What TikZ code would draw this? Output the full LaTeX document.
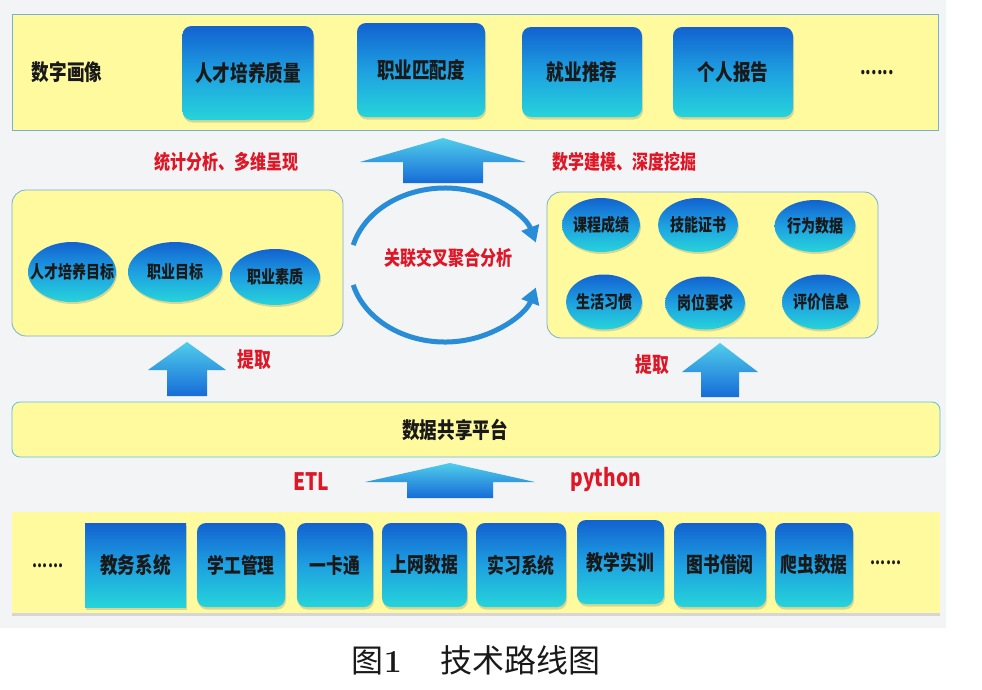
\documentclass[tikz,border=0pt]{standalone}
\usepackage{fontspec}
\newfontfamily\cjk[FakeStretch=0.8]{Noto Sans CJK SC}
\newfontfamily\capfont{Noto Sans CJK SC}
\usetikzlibrary{shapes.geometric,shadows,arrows.meta}
\definecolor{bggray}{RGB}{243,244,246}
\definecolor{panelyellow}{RGB}{255,250,158}
\definecolor{panelline}{RGB}{120,175,215}
\definecolor{tileblue}{RGB}{18,98,208}
\definecolor{tilemid}{RGB}{30,160,225}
\definecolor{tilecyan}{RGB}{38,212,218}
\definecolor{arrcyan}{RGB}{80,205,235}
\definecolor{arrblue}{RGB}{22,108,215}
\definecolor{loopblue}{RGB}{40,140,215}
\definecolor{labelred}{RGB}{222,22,38}
\begin{document}
\begin{tikzpicture}
  [x=1pt,y=-1pt,
   panel/.style={draw=panelline,fill=panelyellow,line width=0.8pt,inner sep=0pt},
   tile/.style={rounded corners=9pt,top color=tileblue,bottom color=tilecyan,middle color=tilemid,
     drop shadow={opacity=.3,shadow xshift=1pt,shadow yshift=-2.5pt},inner sep=2pt,
     text=black!90,font=\cjk\bfseries\fontsize{22}{24}\selectfont},
   blob/.style={ellipse,inner sep=0pt,top color=tileblue,bottom color=tilecyan,middle color=tilemid,
     drop shadow={opacity=.3,shadow xshift=1pt,shadow yshift=-2pt}},
   blobtext/.style={text=black!90,font=\cjk\bfseries\fontsize{17.5}{19}\selectfont},
   redtext/.style={text=labelred,font=\cjk\bfseries\fontsize{20}{22}\selectfont},
   plain/.style={text=black!90,font=\cjk\bfseries\fontsize{22}{24}\selectfont},
   arrowshade/.style={top color=arrcyan,bottom color=arrblue},
   cyclearc/.style={draw=loopblue,line width=5pt,-{Triangle[length=16pt,width=18pt]}}]

  \useasboundingbox (0,0) rectangle (982,689);
  \fill[bggray] (0,0) rectangle (946,628);

  % top layer
  \node[panel,minimum width=926,minimum height=116] (portrait) at (475,72) {};
  \node[plain] (portraitname) at (67,72) {数字画像};
  \node[tile,minimum width=131,minimum height=94] (talent) at (248,73) {人才培养质量};
  \node[tile,minimum width=128,minimum height=94] (match) at (421,70) {职业匹配度};
  \node[tile,minimum width=120,minimum height=90] (recommend) at (582,72) {就业推荐};
  \node[tile,minimum width=120,minimum height=90] (report) at (733,72) {个人报告};
  \node[plain,font=\cjk\bfseries\fontsize{20}{22}\selectfont] (topmore) at (877,73) {......};

  \node[redtext] (statlabel) at (226,162) {统计分析、多维呈现};
  \node[redtext] (modellabel) at (624,162) {数学建模、深度挖掘};

  % middle layer
  \node[panel,rounded corners=14pt,minimum width=331,minimum height=146] (goals) at (177.5,263) {};
  \node[panel,rounded corners=14pt,minimum width=331,minimum height=146] (records) at (712.5,265) {};

  \foreach \name/\cx/\cy/\bw/\bh/\txt in
    {aim/72/272/88/60/人才培养目标, careeraim/175/272/94/60/职业目标, quality/275/277/90/56/职业素质,
     course/601/225/78/54/课程成绩, cert/698/225/80/54/技能证书, behave/815/226/81/52/行为数据,
     habit/604/302/76/55/生活习惯, post/705/303/80/53/岗位要求, review/821/302/78/55/评价信息}
    \node[blob,minimum width=\bw,minimum height=\bh,label={[blobtext]center:\txt}] (\name) at (\cx,\cy) {};

  \coordinate (loop) at (445,265);
  \draw[cyclearc] (loop) ++(195:95 and 77) arc[start angle=195,end angle=343,x radius=95,y radius=77];
  \draw[cyclearc] (loop) ++(165:95 and 77) arc[start angle=165,end angle=17,x radius=95,y radius=77];
  \node[redtext] (looplabel) at (448,258) {关联交叉聚合分析};

  % block arrows
  \foreach \cx/\ty/\hw/\hb/\sw/\by in {443/138/83/162/40/183, 187/342/39/370/20/396,
                                        720/343/38/372/19/397, 450/463/85/482/43/498}
    \shade[arrowshade] (\cx,\ty) -- (\cx+\hw,\hb) -- (\cx+\sw,\hb) -- (\cx+\sw,\by)
      -- (\cx-\sw,\by) -- (\cx-\sw,\hb) -- (\cx-\hw,\hb) -- cycle;

  \node[redtext,font=\cjk\bfseries\fontsize{21}{23}\selectfont] (extractleft) at (254,360) {提取};
  \node[redtext,font=\cjk\bfseries\fontsize{21}{23}\selectfont] (extractright) at (652,365) {提取};

  % data platform
  \node[panel,rounded corners=8pt,draw={rgb,255:red,95;green,190;blue,230},minimum width=928,minimum height=55] (platform) at (476,429.5) {};
  \node[plain] (platformname) at (455,430) {数据共享平台};

  \node[redtext,font=\cjk\bfseries\fontsize{24}{26}\selectfont] (etl) at (311,482) {ETL};
  \node[redtext,font=\cjk\bfseries\fontsize{24}{26}\selectfont] (python) at (606,480) {python};

  % source systems
  \node[panel,draw=none,minimum width=928,minimum height=101,drop shadow={opacity=.25,shadow xshift=0pt,shadow yshift=-3pt}] (sources) at (476,562.5) {};
  \node[tile,rounded corners=0pt,minimum width=101,minimum height=84] (academic) at (135.5,565) {教务系统};
  \foreach \name/\cx/\cy/\bw/\txt in
    {student/241/565/88/学工管理, card/335/565/76/一卡通, online/424.5/565/85/上网数据,
     intern/521/565/90/实习系统, training/620.5/562/87/教学实训, library/720/565/92/图书借阅,
     crawler/814/565/78/爬虫数据}
    \node[tile,font=\cjk\bfseries\fontsize{21}{23}\selectfont,minimum width=\bw,minimum height=84] (\name) at (\cx,\cy) {\txt};
  \node[plain,font=\cjk\bfseries\fontsize{18}{20}\selectfont] (leftmore) at (48,566) {......};
  \node[plain,font=\cjk\bfseries\fontsize{18}{20}\selectfont] (rightmore) at (886,563) {......};

  \node[font=\capfont\fontsize{32}{34}\selectfont,text=black!90] (caption) at (476,660)
    {图{\rmfamily\bfseries 1}\hspace{1.2em}技术路线图};
\end{tikzpicture}
\end{document}
